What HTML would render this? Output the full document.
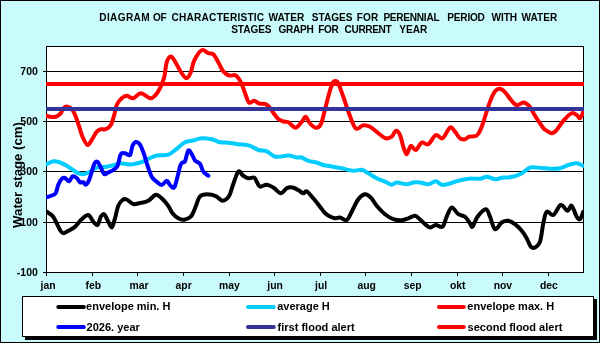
<!DOCTYPE html>
<html><head><meta charset="utf-8"><style>
html,body{margin:0;padding:0;background:#fff;}
svg{display:block;will-change:transform;}
</style></head><body>
<svg width="600" height="343" viewBox="0 0 600 343">
<rect x="0" y="0" width="600" height="343" fill="#c9fbfd"/>
<rect x="0.5" y="0.5" width="599" height="342" fill="none" stroke="#000" stroke-width="1"/>
<rect x="46" y="46" width="538" height="227" fill="#fff"/>
<rect x="43" y="71" width="541" height="1" fill="#000"/>
<rect x="43" y="121" width="541" height="1" fill="#000"/>
<rect x="43" y="171" width="541" height="1" fill="#000"/>
<rect x="43" y="222" width="541" height="1" fill="#000"/>
<rect x="43" y="272" width="3" height="1" fill="#000"/>
<rect x="46" y="272" width="1" height="4" fill="#000"/>
<rect x="92" y="272" width="1" height="4" fill="#000"/>
<rect x="137" y="272" width="1" height="4" fill="#000"/>
<rect x="183" y="272" width="1" height="4" fill="#000"/>
<rect x="229" y="272" width="1" height="4" fill="#000"/>
<rect x="274" y="272" width="1" height="4" fill="#000"/>
<rect x="320" y="272" width="1" height="4" fill="#000"/>
<rect x="365" y="272" width="1" height="4" fill="#000"/>
<rect x="411" y="272" width="1" height="4" fill="#000"/>
<rect x="457" y="272" width="1" height="4" fill="#000"/>
<rect x="502" y="272" width="1" height="4" fill="#000"/>
<rect x="548" y="272" width="1" height="4" fill="#000"/>
<rect x="46.5" y="46.5" width="537" height="226" fill="none" stroke="#000" stroke-width="1"/>
<clipPath id="c"><rect x="46" y="46" width="538" height="227"/></clipPath>
<g clip-path="url(#c)" fill="none" stroke-width="4" stroke-linejoin="round" stroke-linecap="round">
<path d="M46.7,211.7 C47.7,212.4 50.8,213.9 52.5,215.8 C54.2,217.7 55.5,220.9 56.7,223.3 C58.0,225.7 58.9,228.3 60.0,230.0 C61.1,231.7 61.9,233.2 63.3,233.3 C64.7,233.4 66.3,231.9 68.3,230.8 C70.2,229.7 72.8,228.6 75.0,226.7 C77.2,224.8 79.5,221.1 81.7,219.2 C83.9,217.2 86.4,214.6 88.3,215.0 C90.2,215.4 91.8,220.0 93.3,221.7 C94.8,223.4 96.2,225.8 97.5,225.0 C98.8,224.2 99.7,218.5 100.8,216.7 C101.9,214.9 103.1,213.6 104.2,214.2 C105.3,214.8 106.2,217.8 107.5,220.0 C108.8,222.2 110.5,227.8 111.7,227.5 C113.0,227.2 113.9,221.9 115.0,218.3 C116.1,214.7 117.0,208.9 118.3,205.8 C119.5,202.8 121.1,201.1 122.5,200.0 C123.9,198.9 124.9,198.8 126.7,199.5 C128.5,200.2 131.1,203.4 133.3,204.0 C135.5,204.6 137.5,203.5 140.0,203.0 C142.5,202.5 145.7,202.2 148.3,200.8 C150.9,199.4 153.6,195.1 155.8,194.7 C158.0,194.3 159.6,196.5 161.7,198.3 C163.8,200.2 166.5,203.3 168.3,205.8 C170.1,208.3 170.8,211.2 172.5,213.3 C174.2,215.4 176.4,217.2 178.3,218.3 C180.2,219.4 182.1,220.0 184.2,219.7 C186.3,219.4 189.0,218.6 190.8,216.7 C192.6,214.8 193.6,211.5 195.0,208.3 C196.4,205.1 197.8,199.8 199.2,197.5 C200.6,195.2 201.2,195.2 203.3,194.7 C205.4,194.2 209.5,194.4 211.7,194.7 C213.9,195.0 214.9,195.7 216.7,196.7 C218.5,197.7 220.7,200.6 222.5,200.8 C224.3,201.0 226.2,199.1 227.5,198.0 C228.8,196.9 229.0,196.3 230.0,194.0 C231.0,191.7 231.9,187.7 233.3,184.0 C234.7,180.3 236.6,173.1 238.3,171.7 C240.0,170.3 241.6,174.7 243.3,175.8 C245.0,176.9 246.5,178.0 248.3,178.3 C250.1,178.6 252.8,176.9 254.2,177.5 C255.6,178.1 255.7,180.2 256.7,181.7 C257.7,183.2 258.3,186.2 260.0,186.7 C261.7,187.2 264.5,184.6 266.7,184.7 C268.9,184.8 270.9,186.1 273.3,187.5 C275.7,188.9 278.6,193.2 280.8,193.3 C283.0,193.4 284.8,189.3 286.7,188.3 C288.6,187.3 290.6,187.2 292.5,187.5 C294.4,187.8 296.5,189.0 298.3,190.0 C300.1,191.0 301.9,193.1 303.3,193.3 C304.7,193.5 305.0,190.5 306.7,191.3 C308.4,192.1 311.1,195.7 313.3,198.3 C315.5,200.9 318.1,204.2 320.0,206.7 C321.9,209.1 323.3,211.4 325.0,213.0 C326.7,214.6 328.3,215.6 330.0,216.5 C331.7,217.4 333.3,218.1 335.0,218.3 C336.7,218.5 338.1,217.2 340.0,217.5 C341.9,217.8 344.8,221.0 346.7,220.0 C348.6,219.0 349.8,215.2 351.7,211.7 C353.6,208.2 356.1,202.1 358.3,199.2 C360.5,196.3 362.9,194.5 365.0,194.2 C367.1,193.9 368.9,195.6 370.8,197.5 C372.8,199.4 374.3,203.0 376.7,205.8 C379.1,208.6 382.2,212.0 385.0,214.2 C387.8,216.4 390.5,218.2 393.3,219.2 C396.1,220.2 399.2,220.5 401.7,220.3 C404.2,220.2 406.1,219.1 408.3,218.3 C410.5,217.6 413.1,215.6 415.0,215.8 C416.9,216.0 418.3,218.1 420.0,219.5 C421.7,220.9 423.3,222.9 425.0,224.2 C426.7,225.5 428.2,227.4 430.0,227.5 C431.8,227.6 433.7,225.1 435.8,225.0 C437.9,224.9 440.7,228.1 442.5,226.7 C444.3,225.3 445.2,219.9 446.7,216.7 C448.2,213.5 449.8,207.9 451.7,207.5 C453.6,207.1 456.1,212.7 458.3,214.2 C460.5,215.7 463.1,215.2 465.0,216.7 C466.9,218.2 468.8,221.6 470.0,223.3 C471.2,225.0 471.2,227.8 472.5,226.7 C473.8,225.6 475.3,219.6 477.5,216.7 C479.7,213.8 483.7,209.2 485.8,209.2 C487.9,209.2 488.5,213.4 490.0,216.7 C491.5,220.0 493.1,228.2 495.0,229.2 C496.9,230.2 499.5,223.9 501.7,222.5 C503.9,221.1 506.1,220.5 508.3,220.8 C510.5,221.1 512.8,222.5 515.0,224.2 C517.2,225.9 519.8,228.5 521.7,230.8 C523.7,233.2 525.2,235.7 526.7,238.3 C528.2,241.0 529.4,245.2 530.8,246.7 C532.2,248.2 533.5,248.3 535.0,247.5 C536.5,246.7 538.6,245.7 540.0,241.7 C541.4,237.7 542.2,228.3 543.3,223.3 C544.4,218.3 545.0,213.1 546.7,211.7 C548.4,210.3 550.9,216.1 553.3,215.0 C555.6,213.9 558.4,205.7 560.8,205.0 C563.2,204.3 565.7,210.7 567.5,210.8 C569.3,210.9 570.2,204.8 571.7,205.8 C573.2,206.8 575.3,214.5 576.7,216.7 C578.1,218.9 578.9,220.0 580.0,219.2 C581.1,218.4 582.8,212.9 583.3,211.7" stroke="#000"/>
<path d="M46.7,164.2 C47.8,163.7 51.1,161.5 53.3,161.2 C55.5,160.9 57.5,161.6 60.0,162.5 C62.5,163.4 65.5,165.0 68.3,166.7 C71.1,168.4 74.2,171.2 76.7,172.5 C79.2,173.8 81.1,174.3 83.3,174.2 C85.5,174.1 87.8,172.8 90.0,171.7 C92.2,170.6 93.9,168.3 96.7,167.5 C99.5,166.7 103.9,167.1 106.7,166.7 C109.5,166.3 111.1,165.9 113.3,165.3 C115.5,164.7 117.2,163.4 120.0,163.3 C122.8,163.2 127.5,164.4 130.0,164.5 C132.5,164.6 133.1,164.2 135.0,163.8 C136.9,163.4 139.5,163.0 141.7,162.2 C143.9,161.4 145.8,159.9 148.3,158.8 C150.8,157.7 153.4,156.2 156.7,155.5 C160.0,154.8 165.0,155.8 168.3,154.7 C171.6,153.6 173.9,150.9 176.7,148.8 C179.5,146.7 182.2,143.6 185.0,142.2 C187.8,140.8 190.5,141.2 193.3,140.5 C196.1,139.8 198.6,138.5 201.7,138.3 C204.8,138.1 208.6,138.7 211.7,139.3 C214.8,140.0 217.2,141.6 220.0,142.2 C222.8,142.8 225.2,142.4 228.3,142.7 C231.4,143.0 234.7,143.7 238.3,144.2 C241.9,144.7 246.7,144.8 250.0,145.8 C253.3,146.8 255.5,149.1 258.3,150.0 C261.1,150.9 264.1,150.2 266.7,151.3 C269.3,152.4 272.0,155.4 274.2,156.3 C276.4,157.2 277.6,156.8 280.0,156.7 C282.4,156.6 285.5,155.4 288.3,155.5 C291.1,155.6 294.5,157.2 296.7,157.5 C298.9,157.8 299.8,156.9 301.7,157.5 C303.6,158.1 305.8,160.0 308.3,160.8 C310.8,161.6 314.2,161.8 316.7,162.5 C319.2,163.2 320.5,164.3 323.3,165.0 C326.1,165.7 330.2,166.1 333.3,166.7 C336.4,167.2 338.4,167.6 341.7,168.3 C345.0,169.0 350.0,170.6 353.3,170.8 C356.6,171.0 359.2,169.3 361.7,169.7 C364.2,170.1 365.8,171.9 368.3,173.3 C370.8,174.7 373.9,176.9 376.7,178.3 C379.5,179.7 382.5,180.6 385.0,181.7 C387.5,182.8 389.8,184.6 391.7,184.7 C393.6,184.8 394.2,182.6 396.7,182.5 C399.2,182.4 403.9,184.2 406.7,184.2 C409.5,184.2 411.1,182.8 413.3,182.5 C415.5,182.2 417.5,182.2 420.0,182.5 C422.5,182.8 425.7,184.4 428.3,184.2 C430.9,184.0 433.3,181.2 435.8,181.3 C438.3,181.4 439.6,185.1 443.3,185.0 C447.1,184.9 454.1,181.9 458.3,180.8 C462.5,179.8 464.7,179.0 468.3,178.7 C471.9,178.3 476.9,179.0 480.0,178.7 C483.1,178.4 484.2,176.6 486.7,176.7 C489.2,176.8 492.2,179.1 495.0,179.2 C497.8,179.3 500.8,177.8 503.3,177.5 C505.8,177.2 507.2,177.9 510.0,177.3 C512.8,176.8 517.2,175.5 520.0,174.2 C522.8,172.9 524.8,170.9 526.7,169.7 C528.7,168.5 529.2,167.5 531.7,167.2 C534.2,166.9 538.7,167.8 541.7,168.0 C544.8,168.2 547.0,168.6 550.0,168.7 C553.0,168.8 557.0,168.9 560.0,168.3 C563.0,167.7 565.5,165.8 568.3,165.0 C571.1,164.2 574.2,163.2 576.7,163.3 C579.2,163.4 582.2,165.4 583.3,165.8" stroke="#00ccff"/>
<path d="M46.7,115.8 C47.5,116.0 50.0,116.9 51.7,117.0 C53.4,117.1 55.2,116.9 56.7,116.3 C58.2,115.7 59.7,114.6 60.8,113.3 C61.9,112.0 62.2,109.4 63.3,108.3 C64.4,107.2 66.0,106.4 67.5,106.7 C69.0,107.0 71.1,108.3 72.5,110.0 C73.9,111.7 74.7,113.9 75.8,116.7 C76.9,119.5 78.1,123.4 79.2,126.7 C80.3,130.0 81.1,133.6 82.5,136.7 C83.9,139.8 86.0,144.4 87.5,145.0 C89.0,145.6 90.2,142.2 91.7,140.0 C93.2,137.8 95.2,133.5 96.7,131.7 C98.2,129.9 99.3,129.6 100.8,129.2 C102.3,128.8 104.1,129.9 105.8,129.2 C107.5,128.5 109.4,127.4 110.8,125.0 C112.2,122.6 113.2,118.3 114.2,115.0 C115.2,111.7 115.5,107.8 116.7,105.0 C118.0,102.2 120.0,99.8 121.7,98.3 C123.4,96.8 124.8,95.8 126.7,95.8 C128.6,95.8 131.0,98.6 133.3,98.2 C135.7,97.8 138.0,93.2 140.8,93.2 C143.6,93.2 147.6,97.8 150.0,98.2 C152.4,98.6 153.3,97.4 155.0,95.7 C156.7,94.0 158.5,91.3 160.0,88.2 C161.5,85.1 163.1,81.6 164.2,77.3 C165.3,73.0 165.6,65.8 166.7,62.3 C167.8,58.8 169.4,56.6 170.8,56.5 C172.2,56.4 173.2,58.7 175.0,61.5 C176.8,64.3 179.8,70.4 181.7,73.2 C183.6,76.0 185.2,78.4 186.7,78.2 C188.2,78.0 189.6,75.2 190.8,72.3 C192.1,69.4 192.4,64.4 194.2,60.7 C196.0,57.0 199.3,51.5 201.7,50.3 C204.0,49.0 206.4,52.5 208.3,53.2 C210.2,53.9 211.6,52.8 213.3,54.3 C215.0,55.8 216.6,59.4 218.3,62.3 C220.0,65.2 221.5,69.3 223.3,71.5 C225.1,73.7 227.2,74.9 229.2,75.5 C231.1,76.1 233.3,74.6 235.0,75.2 C236.7,75.8 237.9,77.5 239.2,79.3 C240.4,81.1 241.4,83.3 242.5,86.0 C243.6,88.7 244.7,92.4 245.8,95.2 C246.9,98.0 247.8,101.8 249.2,102.7 C250.6,103.6 252.5,100.6 254.2,100.7 C255.9,100.8 257.4,103.0 259.2,103.5 C261.0,104.0 263.3,103.5 265.0,104.0 C266.7,104.5 267.8,105.3 269.2,106.8 C270.6,108.2 271.8,110.7 273.3,112.7 C274.8,114.7 276.6,117.5 278.3,119.0 C280.0,120.5 281.7,121.0 283.3,121.5 C284.9,122.0 286.8,121.5 288.0,122.0 C289.2,122.5 289.5,123.3 290.8,124.3 C292.1,125.2 294.0,128.1 295.8,127.7 C297.6,127.3 300.0,123.6 301.7,121.8 C303.4,120.0 304.4,116.5 305.8,116.8 C307.2,117.1 308.3,121.7 310.0,123.5 C311.7,125.3 314.0,127.6 315.8,127.7 C317.6,127.8 319.3,127.3 320.8,124.3 C322.3,121.3 323.6,114.7 325.0,109.5 C326.4,104.3 327.9,97.7 329.2,93.3 C330.4,88.9 331.5,85.3 332.5,83.3 C333.5,81.2 334.3,81.0 335.3,81.0 C336.3,81.0 337.0,80.7 338.3,83.3 C339.6,85.9 341.5,91.6 343.3,96.7 C345.1,101.8 347.1,108.7 349.2,114.0 C351.3,119.3 353.4,126.6 355.8,128.5 C358.2,130.4 360.9,125.5 363.3,125.2 C365.7,124.9 367.8,125.7 370.0,126.8 C372.2,127.9 375.0,130.5 376.7,131.8 C378.4,133.1 378.5,133.4 380.0,134.5 C381.5,135.6 383.9,137.9 385.8,138.3 C387.8,138.7 390.0,137.9 391.7,136.7 C393.4,135.4 394.4,131.1 395.8,130.8 C397.2,130.5 398.8,132.3 400.0,135.0 C401.2,137.7 402.2,143.5 403.3,146.7 C404.4,149.9 405.4,154.3 406.7,154.2 C407.9,154.0 409.3,146.5 410.8,145.8 C412.3,145.1 414.0,150.6 415.8,150.0 C417.6,149.4 419.6,143.5 421.7,142.5 C423.8,141.5 425.9,145.4 428.3,144.2 C430.7,142.9 433.4,136.0 435.8,135.0 C438.2,134.0 440.1,139.6 442.5,138.3 C444.9,137.1 447.9,128.6 450.0,127.5 C452.1,126.4 453.3,129.9 455.0,131.7 C456.7,133.5 458.3,137.1 460.0,138.3 C461.7,139.6 463.5,139.5 465.0,139.2 C466.5,138.9 467.5,137.2 469.2,136.7 C470.9,136.2 473.5,136.7 475.0,136.2 C476.5,135.7 477.1,135.7 478.3,133.8 C479.6,131.9 481.1,128.5 482.5,124.7 C483.9,121.0 485.3,115.5 486.7,111.3 C488.1,107.1 489.4,103.0 490.8,99.7 C492.2,96.4 493.5,93.1 495.0,91.3 C496.5,89.5 498.3,88.6 500.0,88.8 C501.7,89.0 503.2,90.4 505.0,92.2 C506.8,94.0 508.9,97.5 510.8,99.7 C512.8,101.9 514.6,104.8 516.7,105.2 C518.8,105.7 521.2,102.3 523.3,102.4 C525.4,102.5 527.2,103.8 529.2,106.0 C531.2,108.2 532.9,112.5 535.0,115.8 C537.1,119.1 540.0,123.5 541.7,125.8 C543.4,128.1 543.3,128.4 545.0,129.7 C546.7,130.9 549.8,133.2 551.7,133.3 C553.7,133.4 554.8,132.1 556.7,130.0 C558.6,127.9 560.8,123.6 563.3,120.8 C565.8,118.0 569.5,114.3 571.7,113.3 C573.9,112.3 575.3,114.2 576.7,115.0 C578.1,115.8 578.9,118.8 580.0,118.3 C581.1,117.8 582.8,112.8 583.3,111.7" stroke="#ff0000"/>
<path d="M46.7,197.2 C47.5,196.9 50.2,196.2 51.7,195.5 C53.2,194.8 54.7,194.8 55.8,193.0 C56.9,191.2 57.3,187.1 58.3,184.7 C59.3,182.3 60.6,179.9 61.7,178.8 C62.8,177.7 63.8,177.6 65.0,178.0 C66.2,178.4 68.0,181.6 69.2,181.3 C70.5,181.0 71.2,176.9 72.5,176.3 C73.8,175.8 75.5,177.0 76.7,178.0 C78.0,179.0 78.9,181.5 80.0,182.2 C81.1,182.9 82.3,181.8 83.3,182.2 C84.3,182.6 84.8,185.1 85.8,184.7 C86.8,184.3 87.8,183.1 89.2,179.7 C90.6,176.3 92.8,167.2 94.2,164.2 C95.6,161.2 96.4,161.1 97.5,161.7 C98.6,162.2 99.7,165.4 100.8,167.5 C101.9,169.6 103.0,173.4 104.2,174.2 C105.5,175.0 106.8,173.2 108.3,172.5 C109.8,171.8 111.8,171.1 113.3,170.0 C114.8,168.9 116.2,168.4 117.5,165.8 C118.8,163.2 119.5,156.3 120.8,154.2 C122.0,152.1 123.5,153.2 125.0,153.3 C126.5,153.4 128.8,156.2 130.0,155.0 C131.2,153.8 131.5,148.0 132.5,145.8 C133.5,143.6 134.6,142.2 135.8,142.0 C137.1,141.8 138.6,142.6 140.0,144.7 C141.4,146.8 142.9,151.2 144.2,154.7 C145.4,158.2 146.2,161.8 147.5,165.5 C148.8,169.2 150.2,174.0 151.7,176.7 C153.2,179.4 155.0,180.3 156.7,181.7 C158.4,183.1 160.0,185.2 161.7,185.0 C163.4,184.8 165.3,180.8 166.7,180.8 C168.1,180.8 168.8,183.9 170.0,185.0 C171.2,186.1 172.9,188.9 174.2,187.5 C175.4,186.1 176.5,180.2 177.5,176.7 C178.5,173.2 179.3,169.0 180.0,166.7 C180.7,164.4 180.9,163.9 181.7,163.0 C182.5,162.1 183.9,163.4 185.0,161.3 C186.1,159.2 187.1,151.5 188.3,150.5 C189.6,149.5 191.4,153.8 192.5,155.5 C193.6,157.2 193.8,159.1 195.0,160.5 C196.2,161.9 198.6,161.9 200.0,163.8 C201.4,165.7 201.9,169.7 203.3,171.7 C204.7,173.7 207.5,175.1 208.3,175.8" stroke="#0000ff"/>
<rect x="46" y="107" width="538" height="4" fill="#333399" stroke="none"/>
<rect x="46" y="82" width="538" height="4" fill="#ff0000" stroke="none"/>
</g>
<text x="99.32" y="20.60" font-family="Liberation Sans, sans-serif" font-weight="bold" font-size="10.1" letter-spacing="0.35">DIAGRAM</text>
<text x="153.09" y="20.60" font-family="Liberation Sans, sans-serif" font-weight="bold" font-size="10.1" letter-spacing="-0.54">OF</text>
<text x="171.59" y="20.60" font-family="Liberation Sans, sans-serif" font-weight="bold" font-size="10.1" letter-spacing="0.22">CHARACTERISTIC</text>
<text x="268.49" y="20.60" font-family="Liberation Sans, sans-serif" font-weight="bold" font-size="10.1" letter-spacing="0.05">WATER</text>
<text x="311.71" y="20.60" font-family="Liberation Sans, sans-serif" font-weight="bold" font-size="10.1" letter-spacing="0.03">STAGES</text>
<text x="356.82" y="20.60" font-family="Liberation Sans, sans-serif" font-weight="bold" font-size="10.1" letter-spacing="0.03">FOR</text>
<text x="383.42" y="20.60" font-family="Liberation Sans, sans-serif" font-weight="bold" font-size="10.1" letter-spacing="-0.27">PERENNIAL</text>
<text x="447.32" y="20.60" font-family="Liberation Sans, sans-serif" font-weight="bold" font-size="10.1" letter-spacing="-0.22">PERIOD</text>
<text x="491.49" y="20.60" font-family="Liberation Sans, sans-serif" font-weight="bold" font-size="10.1" letter-spacing="-0.04">WITH</text>
<text x="521.49" y="20.60" font-family="Liberation Sans, sans-serif" font-weight="bold" font-size="10.1" letter-spacing="0.05">WATER</text>
<text x="231.21" y="32.60" font-family="Liberation Sans, sans-serif" font-weight="bold" font-size="10.1" letter-spacing="-0.07">STAGES</text>
<text x="278.59" y="32.60" font-family="Liberation Sans, sans-serif" font-weight="bold" font-size="10.1" letter-spacing="-0.34">GRAPH</text>
<text x="318.32" y="32.60" font-family="Liberation Sans, sans-serif" font-weight="bold" font-size="10.1" letter-spacing="-0.47">FOR</text>
<text x="344.59" y="32.60" font-family="Liberation Sans, sans-serif" font-weight="bold" font-size="10.1" letter-spacing="-0.39">CURRENT</text>
<text x="399.33" y="32.60" font-family="Liberation Sans, sans-serif" font-weight="bold" font-size="10.1" letter-spacing="-0.06">YEAR</text>
<text x="20.31" y="75.30" font-family="Liberation Sans, sans-serif" font-weight="bold" font-size="10.5">700</text>
<text x="20.31" y="125.30" font-family="Liberation Sans, sans-serif" font-weight="bold" font-size="10.5">500</text>
<text x="20.31" y="175.30" font-family="Liberation Sans, sans-serif" font-weight="bold" font-size="10.5">300</text>
<text x="20.31" y="226.30" font-family="Liberation Sans, sans-serif" font-weight="bold" font-size="10.5">100</text>
<text x="16.82" y="276.30" font-family="Liberation Sans, sans-serif" font-weight="bold" font-size="10.5">-100</text>
<text x="40.54" y="289.00" font-family="Liberation Sans, sans-serif" font-weight="bold" font-size="10.4">jan</text>
<text x="85.47" y="289.00" font-family="Liberation Sans, sans-serif" font-weight="bold" font-size="10.4">feb</text>
<text x="129.50" y="289.00" font-family="Liberation Sans, sans-serif" font-weight="bold" font-size="10.4">mar</text>
<text x="175.53" y="289.00" font-family="Liberation Sans, sans-serif" font-weight="bold" font-size="10.4">apr</text>
<text x="219.08" y="289.00" font-family="Liberation Sans, sans-serif" font-weight="bold" font-size="10.4">may</text>
<text x="267.31" y="289.00" font-family="Liberation Sans, sans-serif" font-weight="bold" font-size="10.4">jun</text>
<text x="315.08" y="289.00" font-family="Liberation Sans, sans-serif" font-weight="bold" font-size="10.4">jul</text>
<text x="357.45" y="289.00" font-family="Liberation Sans, sans-serif" font-weight="bold" font-size="10.4">aug</text>
<text x="403.67" y="289.00" font-family="Liberation Sans, sans-serif" font-weight="bold" font-size="10.4">sep</text>
<text x="449.96" y="289.00" font-family="Liberation Sans, sans-serif" font-weight="bold" font-size="10.4">okt</text>
<text x="493.64" y="289.00" font-family="Liberation Sans, sans-serif" font-weight="bold" font-size="10.4">nov</text>
<text x="539.98" y="289.00" font-family="Liberation Sans, sans-serif" font-weight="bold" font-size="10.4">dec</text>
<text transform="translate(22.2,227.91) rotate(-90)" x="0" y="0" font-family="Liberation Sans, sans-serif" font-weight="bold" font-size="13.2">Water stage (cm)</text>
<rect x="25" y="299" width="572" height="41" fill="#000"/>
<rect x="22.5" y="296.5" width="571" height="40" fill="#fff" stroke="#000" stroke-width="1"/>
<line x1="58.3" y1="307.1" x2="83.8" y2="307.1" stroke="#000" stroke-width="4" stroke-linecap="round"/>
<text x="86.07" y="309.80" font-family="Liberation Sans, sans-serif" font-weight="bold" font-size="11">envelope min. H</text>
<line x1="248.0" y1="307.1" x2="273.8" y2="307.1" stroke="#00ccff" stroke-width="4" stroke-linecap="round"/>
<text x="277.18" y="309.80" font-family="Liberation Sans, sans-serif" font-weight="bold" font-size="11">average H</text>
<line x1="439.0" y1="307.1" x2="463.8" y2="307.1" stroke="#ff0000" stroke-width="4" stroke-linecap="round"/>
<text x="467.37" y="309.80" font-family="Liberation Sans, sans-serif" font-weight="bold" font-size="11">envelope max. H</text>
<line x1="58.3" y1="327.1" x2="83.8" y2="327.1" stroke="#0000ff" stroke-width="4" stroke-linecap="round"/>
<text x="86.62" y="330.50" font-family="Liberation Sans, sans-serif" font-weight="bold" font-size="11">2026. year</text>
<line x1="248.0" y1="327.1" x2="273.8" y2="327.1" stroke="#333399" stroke-width="4" stroke-linecap="round"/>
<text x="277.61" y="330.50" font-family="Liberation Sans, sans-serif" font-weight="bold" font-size="11">first flood alert</text>
<line x1="439.0" y1="327.1" x2="463.8" y2="327.1" stroke="#ff0000" stroke-width="4" stroke-linecap="round"/>
<text x="467.61" y="330.50" font-family="Liberation Sans, sans-serif" font-weight="bold" font-size="11">second flood alert</text>
</svg>
</body></html>
